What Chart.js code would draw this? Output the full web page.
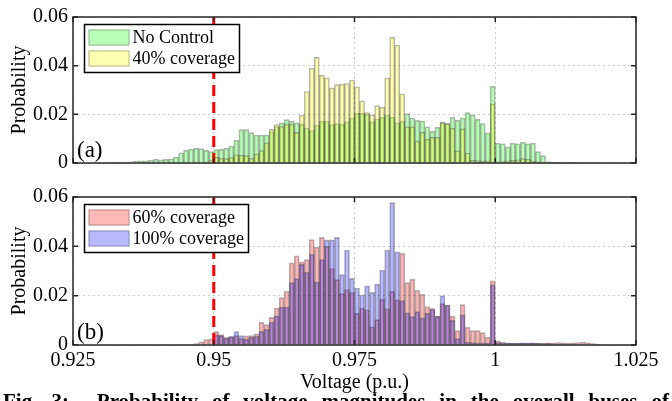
<!DOCTYPE html>
<html>
<head>
<meta charset="utf-8">
<script src="https://cdn.jsdelivr.net/npm/chart.js@4.4.1/dist/chart.umd.min.js"></script>
<style>
  body { margin: 0; width: 672px; height: 401px; overflow: hidden; background: #fff; position: relative; }
  canvas { position: absolute; left: 0; }
  #topChart { top: 0; }
  #bottomChart { top: 180px; }
  #caption {
    position: absolute; left: 3px; width: 666px; top: 389px;
    font: bold 21px "Liberation Serif", serif; line-height: 24px;
    white-space: nowrap; text-align: justify; text-align-last: justify; color: #000;
  }
</style>
</head>
<body>
<canvas id="topChart" width="672" height="180"></canvas>
<canvas id="bottomChart" width="672" height="221"></canvas>
<div id="caption">Fig. 3:&nbsp; Probability of voltage magnitudes in the overall buses of</div>
<script>
// histogram bins: 0.925 .. 1.025, 112 bins
const binStart = 0.925;
const binWidth = 0.025 / 28;
const refVoltage = 0.95;

const xTicks = [0.925, 0.95, 0.975, 1, 1.025];
const xTickLabels = ['0.925', '0.95', '0.975', '1', '1.025'];
const yTicks = [0, 0.02, 0.04, 0.06];
const yTickLabels = ['0', '0.02', '0.04', '0.06'];

// (a) panel
const noControl = [
  0, 0, 0, 0, 0, 0, .0002, .0003, .0003, .0004, .0004, .0005,
  .0008, .0009, .0009, .0012, .0015, .0013, .0015, .0017,
  .0024, .0042, .0052, .0057, .0061, .0059, .0052, .0047,
  .0055, .0056, .0061, .0070, .0094, .0137, .0137, .0125,
  .0115, .0115, .0115, .0128, .0150, .0165, .0178, .0172,
  .0165, .0160, .0143, .0133, .0156, .0172, .0172, .0158,
  .0162, .0160, .0169, .0185, .0204, .0204, .0200, .0169,
  .0181, .0188, .0197, .0188, .0165, .0171, .0203, .0185,
  .0175, .0172, .0149, .0130, .0147, .0169, .0162, .0188,
  .0175, .0185, .0207, .0198, .0179, .0162, .0124, .0315,
  .0082, .0079, .0066, .0082, .0079, .0086, .0079, .0082,
  .0047, .0030, .0006, .0003, .0003, .0002, .0003, .0003,
  .0002, .0001, 0, 0, 0, 0, 0, 0, 0, 0, 0, 0
];
const coverage40 = [
  0, 0, 0, 0, 0, 0, 0, 0, 0, 0, 0, 0,
  0, 0, 0, 0, 0, 0, 0, 0,
  0, 0, 0, 0, 0, 0, .0004, .0012,
  .0024, .0019, .0018, .0022, .0034, .0032, .0030, .0019,
  .0037, .0051, .0083, .0138, .0158, .0150, .0160, .0160,
  .0126, .0197, .0294, .0390, .0434, .0360, .0350, .0309,
  .0322, .0324, .0326, .0341, .0313, .0255, .0207, .0198,
  .0236, .0229, .0350, .0516, .0485, .0284, .0149, .0149,
  .0090, .0126, .0098, .0105, .0105, .0165, .0162, .0143,
  .0050, .0140, .0041, .0011, .0010, .0009, .0009, .0243,
  .0005, .0006, .0009, .0011, .0013, .0018, .0015, .0009,
  .0005, .0003, .0002, .0001, .0001, .0002, .0002, .0001,
  0, 0, 0, 0, 0, 0, 0, 0, 0, 0, 0, 0
];

// (b) panel
const coverage60 = [
  0, 0, 0, 0, 0, 0, 0, 0, 0, 0, 0, 0,
  0, 0, 0, 0, 0, 0, 0, 0,
  0, 0, 0, 0, .0006, .0013, .0022, .0025,
  .0054, .0042, .0032, .0032, .0038, .0026, .0037, .0038,
  .0045, .0092, .0083, .0112, .0150, .0192, .0218, .0333,
  .0362, .0337, .0346, .0427, .0397, .0436, .0400, .0310,
  .0265, .0208, .0225, .0213, .0128, .0150, .0143, .0074,
  .0103, .0186, .0147, .0218, .0183, .0372, .0253, .0267,
  .0222, .0205, .0156, .0148, .0116, .0168, .0162, .0117,
  .0058, .0164, .0072, .0058, .0058, .0050, .0032, .0260,
  .0017, .0012, .0009, .0008, .0008, .0007, .0007, .0008,
  .0007, .0008, .0009, .0008, .0010, .0009, .0008, .0009,
  .0010, .0011, .0009, .0006, .0003, .0002, 0, 0, 0, 0, 0, 0
];
const coverage100 = [
  0, 0, 0, 0, 0, 0, 0, 0, 0, 0, 0, 0,
  0, 0, 0, 0, 0, 0, 0, 0,
  0, 0, 0, 0, 0, 0, 0, 0,
  .0041, .0038, .0027, .0035, .0054, .0038, .0024, .0032,
  .0035, .0055, .0064, .0093, .0118, .0154, .0154, .0253,
  .0269, .0327, .0295, .0368, .0256, .0346, .0426, .0426,
  .0436, .0285, .0385, .0270, .0231, .0203, .0240, .0214,
  .0247, .0304, .0385, .0577, .0378, .0180, .0130, .0115,
  .0135, .0110, .0128, .0146, .0116, .0200, .0162, .0100,
  .0026, .0122, .0012, .0010, .0008, .0008, .0008, .0244,
  .0010, .0008, .0007, .0007, .0008, .0009, .0008, .0009,
  .0007, .0006, .0006, .0005, .0004, .0004, .0003, .0003,
  .0002, .0002, 0, 0, 0, 0, 0, 0, 0, 0, 0, 0
];

const binCenters = noControl.map((_, i) => binStart + (i + 0.5) * binWidth);

const serif = '"Liberation Serif", "Times New Roman", serif';
const edge = 'rgba(40, 40, 40, 0.35)';

// box, inward ticks, red limit line, legend and panel label
const framePlugin = {
  id: 'frame',
  afterDatasetsDraw(chart, args, opts) {
    const { ctx, chartArea: a, scales: { x, y } } = chart;
    ctx.save();

    const rx = x.getPixelForValue(refVoltage);
    ctx.strokeStyle = '#ff0000';
    ctx.lineWidth = 3;
    ctx.setLineDash([11, 6]);
    ctx.beginPath();
    ctx.moveTo(rx, a.top);
    ctx.lineTo(rx, a.bottom);
    ctx.stroke();
    ctx.setLineDash([]);

    ctx.strokeStyle = '#262626';
    ctx.lineWidth = 1.5;
    ctx.strokeRect(a.left, a.top, a.width, a.height);
    ctx.beginPath();
    xTicks.forEach(v => {
      const px = x.getPixelForValue(v);
      ctx.moveTo(px, a.bottom); ctx.lineTo(px, a.bottom - 5);
      ctx.moveTo(px, a.top); ctx.lineTo(px, a.top + 5);
    });
    yTicks.forEach(v => {
      const py = y.getPixelForValue(v);
      ctx.moveTo(a.left, py); ctx.lineTo(a.left + 5, py);
      ctx.moveTo(a.right, py); ctx.lineTo(a.right - 5, py);
    });
    ctx.stroke();

    ctx.fillStyle = '#000';
    ctx.font = '23px ' + serif;
    ctx.textBaseline = 'alphabetic';
    ctx.textAlign = 'left';
    ctx.fillText(opts.label, a.left + 4, a.bottom - 6);

    // legend box
    const bx = a.left + 11.5, by = a.top + 7.5;
    ctx.fillStyle = '#fff';
    ctx.fillRect(bx, by, opts.boxWidth, 48);
    ctx.strokeStyle = '#000';
    ctx.lineWidth = 1.5;
    ctx.strokeRect(bx, by, opts.boxWidth, 48);
    ctx.font = '18px ' + serif;
    ctx.textBaseline = 'middle';
    chart.data.datasets.forEach((ds, i) => {
      const sy = by + 5 + i * 21;
      ctx.fillStyle = ds.backgroundColor;
      ctx.fillRect(bx + 4, sy, 41, 16);
      ctx.strokeStyle = edge;
      ctx.lineWidth = 1;
      ctx.strokeRect(bx + 4.5, sy + 0.5, 40, 15);
      ctx.fillStyle = '#000';
      ctx.fillText(ds.label, bx + 48, sy + 8.5);
    });
    ctx.restore();
  }
};

function makeChart(id, series, cfg) {
  return new Chart(document.getElementById(id), {
    type: 'bar',
    data: {
      datasets: series.map((s, i) => ({
        label: s.label,
        data: s.values.map((v, k) => ({ x: binCenters[k], y: v })),
        backgroundColor: s.color,
        borderColor: edge,
        borderWidth: 1,
        barPercentage: 1,
        categoryPercentage: 1,
        grouped: false,
        order: 2 - i
      }))
    },
    options: {
      responsive: false,
      animation: false,
      layout: { padding: { top: cfg.top, right: 36, left: 0, bottom: 0 } },
      plugins: {
        legend: { display: false },
        tooltip: { enabled: false },
        frame: { label: cfg.label, boxWidth: cfg.boxWidth }
      },
      scales: {
        x: {
          type: 'linear', min: 0.925, max: 1.025, offset: false,
          afterBuildTicks: s => { s.ticks = xTicks.map(v => ({ value: v })); },
          afterFit: s => { s.height = cfg.xHeight; },
          ticks: {
            display: cfg.showX, autoSkip: false, maxRotation: 0, padding: 4,
            color: '#000', font: { family: serif, size: 20 },
            callback: (v, i) => xTickLabels[i]
          },
          grid: { color: '#cccccc', drawTicks: false, offset: false },
          border: { display: false, dash: [2, 3] },
          title: {
            display: cfg.showX, text: 'Voltage (p.u.)', color: '#000',
            font: { family: serif, size: 20 }, padding: { top: 0, bottom: 6 }
          }
        },
        y: {
          min: 0, max: 0.06,
          afterBuildTicks: s => { s.ticks = yTicks.map(v => ({ value: v })); },
          afterFit: s => { s.width = 73; },
          ticks: {
            padding: 5, color: '#000', font: { family: serif, size: 20 },
            callback: (v, i) => yTickLabels[i]
          },
          grid: { color: '#cccccc', drawTicks: false },
          border: { display: false, dash: [2, 3] },
          title: {
            display: true, text: 'Probability', color: '#000',
            font: { family: serif, size: 20 }, padding: { top: 8, bottom: 0 }
          }
        }
      }
    },
    plugins: [framePlugin]
  });
}

makeChart('topChart', [
  { label: 'No Control', values: noControl, color: 'rgba(0, 255, 0, 0.28)' },
  { label: '40% coverage', values: coverage40, color: 'rgba(255, 255, 0, 0.3)' }
], { top: 15, xHeight: 8, showX: false, label: '(a)', boxWidth: 155 });

makeChart('bottomChart', [
  { label: '60% coverage', values: coverage60, color: 'rgba(255, 0, 0, 0.28)' },
  { label: '100% coverage', values: coverage100, color: 'rgba(0, 0, 255, 0.28)' }
], { top: 8, xHeight: 56, showX: true, label: '(b)', boxWidth: 164 });
</script>
</body>
</html>
